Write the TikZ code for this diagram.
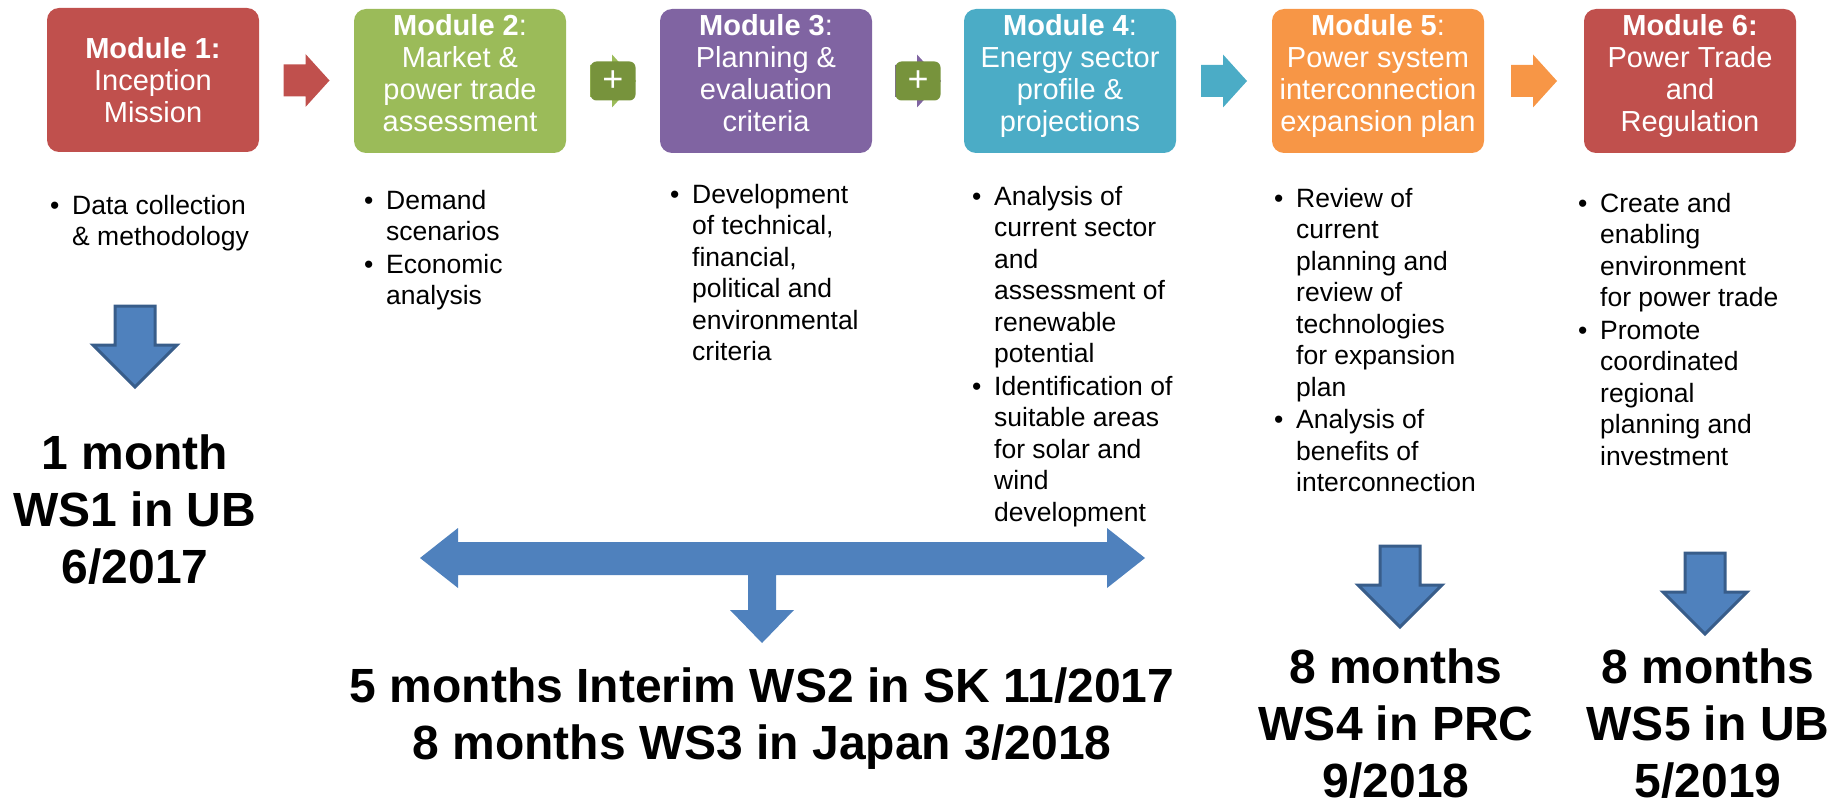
\documentclass[tikz,border=0pt]{standalone}
\usepackage{fontspec}
\setmainfont{Liberation Sans}
\usetikzlibrary{calc}

\definecolor{modred}{HTML}{C0504D}
\definecolor{modgreen}{HTML}{9BBB59}
\definecolor{modpurple}{HTML}{8064A2}
\definecolor{modteal}{HTML}{4BACC6}
\definecolor{modorange}{HTML}{F79646}
\definecolor{plusgreen}{HTML}{77933C}
\definecolor{wsblue}{HTML}{4F81BD}
\definecolor{wsline}{HTML}{385D8A}

\newcommand{\blt}[1]{\makebox[22pt][l]{\textbullet}\begin{tabular}[t]{@{}l@{}}#1\end{tabular}}

\tikzset{
	module/.style={rectangle,rounded corners=12pt,minimum width=212pt,minimum height=144pt,inner sep=0,text=white,align=center,font=\fontsize{29}{32}\selectfont},
	fourlines/.style={text depth=17pt},
	bullets/.style={anchor=north west,inner sep=0,align=left,font=\fontsize{26.5}{31.5}\selectfont},
	plusbox/.style={rectangle,rounded corners=6pt,fill=plusgreen,minimum width=45pt,minimum height=39pt,inner sep=0,text=white,font=\fontsize{36}{36}\selectfont},
	timing/.style={align=center,inner sep=0,font=\fontsize{48}{57}\selectfont\bfseries},
	rarrow/.pic={\path[pic actions] (-23,-16) -- (-1,-16) -- (-1,-26.5) -- (23,0) -- (-1,26.5) -- (-1,16) -- (-23,16) -- cycle;},
	darrow/.pic={\path[pic actions] (-20,-39) -- (20,-39) -- (20,0) -- (42,0) -- (0,42) -- (-42,0) -- (-20,0) -- cycle;}
}

\begin{document}
\begin{tikzpicture}[x=1pt,y=-1pt]
	\useasboundingbox (0,0) rectangle (1841,810);
	% modules
	\node[module,fill=modred] (m1) at (153,80) {\textbf{Module 1:}\\Inception\\Mission};
	\node[module,fourlines,fill=modgreen] (m2) at (460,81) {\textbf{Module 2}:\\Market \&\\power trade\\assessment};
	\node[module,fourlines,fill=modpurple] (m3) at (766,81) {\textbf{Module 3}:\\Planning \&\\evaluation\\criteria};
	\node[module,fourlines,fill=modteal] (m4) at (1070,81) {\textbf{Module 4}:\\Energy sector\\profile \&\\projections};
	\node[module,fourlines,fill=modorange] (m5) at (1378,81) {\textbf{Module 5}:\\Power system\\interconnection\\expansion plan};
	\node[module,fourlines,fill=modred] (m6) at (1690,81) {\textbf{Module 6:}\\Power Trade\\and\\Regulation};
	% arrows and plus signs between modules
	\pic[fill=modred] at ($(m1.east)!0.5!(m2.west)$) {rarrow};
	\pic[fill=modgreen] at ($(m2.east)!0.5!(m3.west)$) {rarrow};
	\node[plusbox] (p23) at ($(m2.east)!0.5!(m3.west)$) {+};
	\pic[fill=modpurple] at ($(m3.east)!0.5!(m4.west)$) {rarrow};
	\node[plusbox] (p34) at ($(m3.east)!0.5!(m4.west)$) {+};
	\pic[fill=modteal] at ($(m4.east)!0.5!(m5.west)$) {rarrow};
	\pic[fill=modorange] at ($(m5.east)!0.5!(m6.west)$) {rarrow};
	% bullet lists
	\node[bullets] (b1) at (50,192) {\blt{Data collection\\\& methodology}};
	\node[bullets] (b2) at (364,187) {\blt{Demand\\scenarios}\\\blt{Economic\\analysis}};
	\node[bullets] (b3) at (670,181) {\blt{Development\\of technical,\\financial,\\political and\\environmental\\criteria}};
	\node[bullets] (b4) at (972,183) {\blt{Analysis of\\current sector\\and\\assessment of\\renewable\\potential}\\\blt{Identification of\\suitable areas\\for solar and\\wind\\development}};
	\node[bullets] (b5) at (1274,185) {\blt{Review of\\current\\planning and\\review of\\technologies\\for expansion\\plan}\\\blt{Analysis of\\benefits of\\interconnection}};
	\node[bullets] (b6) at (1578,190) {\blt{Create and\\enabling\\environment\\for power trade}\\\blt{Promote\\coordinated\\regional\\planning and\\investment}};
	% workshop arrows
	\pic[fill=wsblue,draw=wsline,line width=3pt] at (135,345) {darrow};
	\fill[wsblue] (420,558) -- (458,528) -- (458,542) -- (1107,542) -- (1107,528) -- (1145,558) -- (1107,588) -- (1107,575)
		-- (776,575) -- (776,610) -- (794,610) -- (762,643) -- (730,610) -- (748,610) -- (748,575)
		-- (458,575) -- (458,588) -- cycle;
	\pic[fill=wsblue,draw=wsline,line width=3pt] at (1400,585) {darrow};
	\pic[fill=wsblue,draw=wsline,line width=3pt] at (1705,592) {darrow};
	% timing
	\node[timing] (t1) at (135,510) {1 month\\WS1 in UB\\6/2017};
	\node[timing] (t23) at (762,719) {5 months Interim WS2 in SK 11/2017\\8 months WS3 in Japan 3/2018};
	\node[timing] (t5) at (1396,724) {8 months\\WS4 in PRC\\9/2018};
	\node[timing] (t6) at (1708,724) {8 months\\WS5 in UB\\5/2019};
\end{tikzpicture}
\end{document}
